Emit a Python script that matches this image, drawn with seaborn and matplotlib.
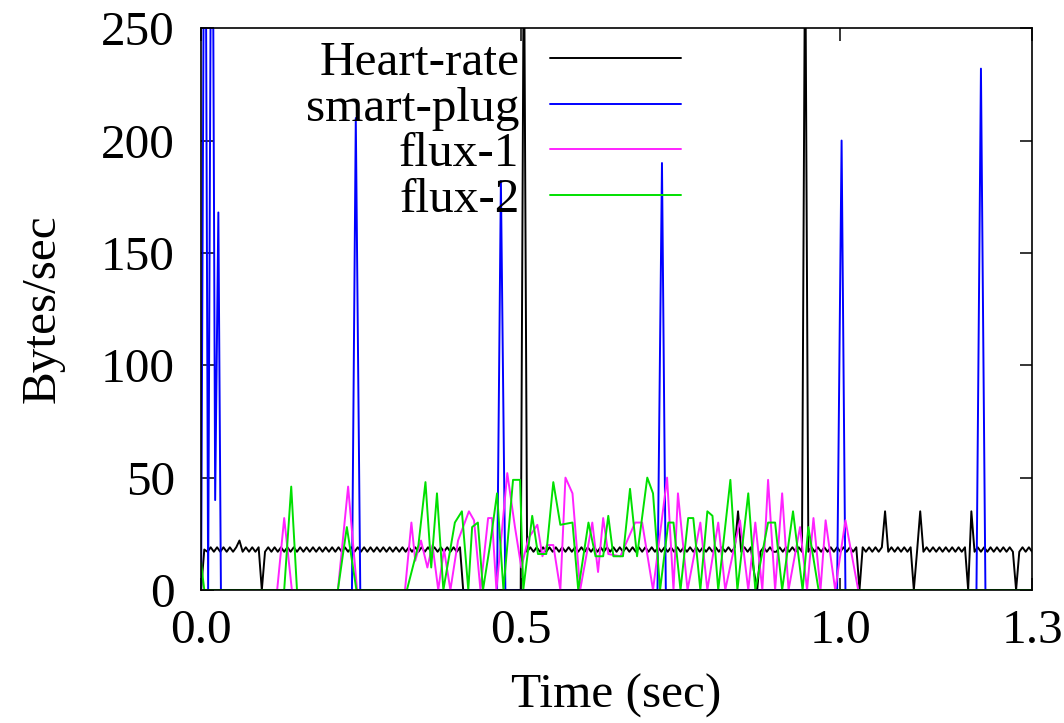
import numpy as np
import pandas as pd
import matplotlib
matplotlib.use('Agg')
import matplotlib.pyplot as plt
import seaborn as sns

SERIES = ['Heart-rate', 'smart-plug', 'flux-1', 'flux-2']
COLORS = {'Heart-rate': '#000000', 'smart-plug': '#0000ff',
          'flux-1': '#ff22ff', 'flux-2': '#00e000'}

X_TICKS = [0.0, 0.5, 1.0, 1.3]
X_TICK_LABELS = ['0.0', '0.5', '1.0', '1.3']
Y_TICKS = [0, 50, 100, 150, 200, 250]

# heart-rate: one sample every 5 ms, one row per 0.1 s
HR_STEP = 0.005
HR_VALUES = [
    0, 18, 17, 19, 17, 19, 17, 19, 17, 19, 17, 19, 22, 17, 19, 17, 19, 17, 19, 0,
    17, 19, 17, 19, 17, 19, 17, 19, 17, 19, 17, 19, 17, 19, 17, 19, 17, 19, 17, 19,
    17, 19, 17, 19, 17, 19, 17, 19, 17, 19, 17, 19, 17, 19, 17, 19, 17, 19, 17, 19,
    17, 19, 17, 19, 17, 19, 17, 19, 17, 19, 17, 19, 17, 19, 17, 19, 17, 19, 17, 19,
    17, 19, 0, 0, 0, 0, 0, 0, 0, 0, 0, 0, 0, 0, 0, 0, 0, 0, 0, 0,
    0, 300, 17, 19, 17, 19, 17, 19, 17, 19, 17, 19, 17, 19, 17, 19, 17, 19, 17, 19,
    17, 19, 17, 19, 17, 19, 17, 19, 17, 19, 17, 19, 17, 19, 17, 19, 17, 19, 17, 19,
    17, 19, 17, 19, 17, 19, 17, 19, 17, 19, 17, 19, 17, 19, 17, 19, 17, 19, 17, 19,
    17, 19, 17, 19, 17, 19, 17, 19, 35, 17, 19, 17, 19, 8, 0, 17, 19, 17, 19, 17,
    17, 19, 17, 19, 17, 19, 17, 19, 17, 300, 17, 19, 17, 19, 17, 19, 17, 19, 17, 19,
    17, 19, 17, 19, 17, 19, 0, 19, 17, 19, 17, 19, 17, 19, 35, 17, 19, 17, 19, 17,
    19, 17, 19, 0, 17, 35, 17, 19, 17, 19, 17, 19, 17, 19, 17, 19, 17, 19, 17, 19,
    0, 35, 17, 19, 17, 19, 17, 19, 17, 19, 17, 19, 17, 19, 17, 0, 17, 19, 17, 19,
    17,
]

PLUG_T = [0.000, 0.006, 0.011, 0.017, 0.022, 0.027, 0.031,
          0.236, 0.242, 0.249, 0.463, 0.469, 0.476, 0.714, 0.721, 0.727,
          0.995, 1.002, 1.008, 1.213, 1.220, 1.227, 1.300]
PLUG_V = [0, 400, 0, 400, 40, 168, 0,
          0, 210, 0, 0, 182, 0, 0, 190, 0,
          0, 200, 0, 0, 232, 0, 0]

FLUX1_T = [0.000, 0.119, 0.130, 0.142, 0.214, 0.230, 0.244, 0.319, 0.329, 0.335,
           0.344, 0.354, 0.362, 0.371, 0.380, 0.390, 0.402, 0.419, 0.427, 0.437,
           0.449, 0.455, 0.462, 0.479, 0.491, 0.501, 0.512, 0.526, 0.534, 0.541,
           0.551, 0.562, 0.570, 0.581, 0.593, 0.612, 0.621, 0.629, 0.637, 0.656,
           0.679, 0.690, 0.707, 0.729, 0.739, 0.746, 0.761, 0.781, 0.792, 0.809,
           0.820, 0.843, 0.856, 0.867, 0.878, 0.887, 0.898, 0.909, 0.919, 0.937,
           0.948, 0.958, 0.969, 0.977, 0.992, 1.008, 1.028, 1.300]
FLUX1_V = [0, 0, 32, 0, 0, 46, 0, 0, 30, 13,
           22, 10, 20, 0, 18, 0, 22, 35, 31, 0,
           32, 32, 0, 52, 28, 10, 23, 29, 15, 20,
           20, 0, 50, 43, 0, 30, 8, 32, 16, 15,
           30, 30, 0, 50, 0, 43, 0, 30, 0, 30,
           0, 31, 0, 30, 0, 49, 0, 43, 0, 28,
           0, 32, 0, 31, 0, 31, 0, 0]

FLUX2_T = [0.000, 0.005, 0.130, 0.141, 0.150, 0.214, 0.228, 0.243, 0.322, 0.340,
           0.351, 0.360, 0.369, 0.379, 0.397, 0.408, 0.418, 0.424, 0.433, 0.441,
           0.452, 0.463, 0.473, 0.488, 0.499, 0.504, 0.518, 0.527, 0.540, 0.551,
           0.562, 0.581, 0.590, 0.606, 0.617, 0.629, 0.637, 0.645, 0.660, 0.671,
           0.682, 0.698, 0.707, 0.718, 0.731, 0.739, 0.750, 0.762, 0.770, 0.781,
           0.792, 0.800, 0.809, 0.828, 0.839, 0.856, 0.867, 0.887, 0.898, 0.909,
           0.926, 0.941, 0.950, 0.966, 1.300]
FLUX2_V = [12, 0, 0, 46, 0, 0, 28, 0, 0, 20,
           48, 10, 43, 0, 30, 35, 0, 28, 30, 0,
           20, 43, 0, 49, 49, 0, 33, 16, 16, 48,
           29, 30, 0, 30, 15, 15, 33, 15, 15, 45,
           15, 50, 43, 0, 30, 30, 0, 32, 32, 0,
           35, 33, 0, 49, 0, 43, 0, 30, 30, 0,
           35, 0, 28, 0, 0]

hr_t = np.arange(len(HR_VALUES)) * HR_STEP
frames = [
    pd.DataFrame({'time': hr_t, 'rate': HR_VALUES, 'series': 'Heart-rate'}),
    pd.DataFrame({'time': PLUG_T, 'rate': PLUG_V, 'series': 'smart-plug'}),
    pd.DataFrame({'time': FLUX1_T, 'rate': FLUX1_V, 'series': 'flux-1'}),
    pd.DataFrame({'time': FLUX2_T, 'rate': FLUX2_V, 'series': 'flux-2'}),
]
df = pd.concat(frames, ignore_index=True)

sns.set_theme(style='ticks')
plt.rcParams['font.family'] = ['Liberation Serif', 'DejaVu Serif']
plt.rcParams['text.color'] = 'black'
plt.rcParams['axes.labelcolor'] = 'black'

FS = 35.5

fig = plt.figure(figsize=(10.64, 7.23), dpi=100)
ax = fig.add_axes([0.189, 0.184, 0.781, 0.777])

sns.lineplot(data=df, x='time', y='rate', hue='series', hue_order=SERIES,
             palette=COLORS, estimator=None, sort=False, linewidth=1.4, ax=ax)

ax.set_xlim(0, 1.3)
ax.set_ylim(0, 250)
ax.set_xticks(X_TICKS)
ax.set_xticklabels(X_TICK_LABELS)
ax.set_yticks(Y_TICKS)
ax.tick_params(direction='in', length=9, width=1.1, top=True, right=True,
               labelsize=FS, colors='black')
ax.tick_params(axis='y', pad=19)
ax.tick_params(axis='x', pad=14)
for sp in ax.spines.values():
    sp.set_visible(True)
    sp.set_color('black')
    sp.set_linewidth(1.2)

ax.set_xlabel('Time (sec)', fontsize=FS, labelpad=15)
ax.set_ylabel('Bytes/sec', fontsize=FS, labelpad=26)

handles, labels = ax.get_legend_handles_labels()
leg = ax.legend(handles, labels, loc='upper right', bbox_to_anchor=(0.589, 0.995),
                frameon=False, markerfirst=False, handlelength=2.65,
                handletextpad=0.62, labelspacing=0.02, borderpad=0.2,
                borderaxespad=0, fontsize=FS)

fig.savefig('out.png', dpi=100)
